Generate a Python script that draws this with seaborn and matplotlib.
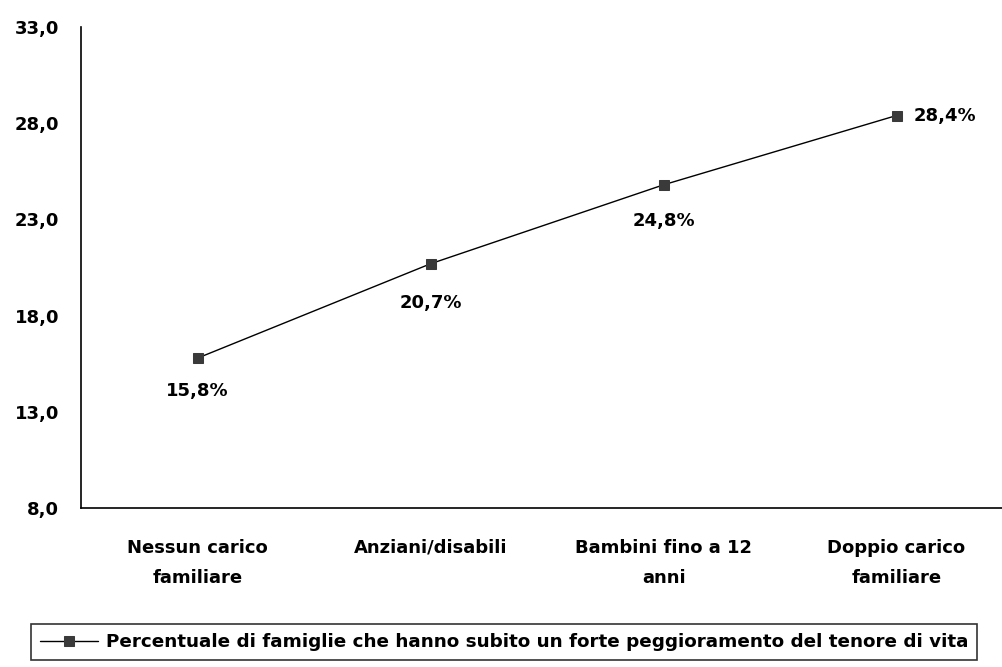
import matplotlib
matplotlib.use('Agg')
import matplotlib.pyplot as plt
import seaborn as sns
import pandas as pd

categories = ['Nessun carico\nfamiliare', 'Anziani/disabili', 'Bambini fino a 12\nanni', 'Doppio carico\nfamiliare']
values = [15.8, 20.7, 24.8, 28.4]
value_labels = ['15,8%', '20,7%', '24,8%', '28,4%']
yticks = [8.0, 13.0, 18.0, 23.0, 28.0, 33.0]
series_name = 'Percentuale di famiglie che hanno subito un forte peggioramento del tenore di vita'


def main():
    sns.set_style('white')
    plt.rcParams['font.family'] = ['DejaVu Sans']
    plt.rcParams['font.weight'] = 'bold'
    plt.rcParams['text.color'] = 'black'

    df = pd.DataFrame({'cat': range(len(categories)), 'val': values})

    fig = plt.figure(figsize=(10.02, 6.67), dpi=100)
    ax = fig.add_axes([0.081, 0.238, 0.93, 0.7216])

    sns.lineplot(data=df, x='cat', y='val', ax=ax, color='black', linewidth=1,
                 marker='s', markersize=7, markerfacecolor='#3a3a3a',
                 markeredgecolor='#3a3a3a', label=series_name, legend=False)

    # point labels, placed like the original
    offsets = [(0, -24, 'center'), (0, -28, 'center'), (0, -26, 'center'), (12, 0, 'left')]
    for i, (v, txt) in enumerate(zip(values, value_labels)):
        dx, dy, ha = offsets[i]
        ax.annotate(txt, (i, v), xytext=(dx, dy), textcoords='offset points',
                    ha=ha, va='center', fontsize=13, fontweight='bold', color='black')

    ax.set_xlim(-0.5, 3.5)
    ax.set_ylim(8, 33)
    ax.set_yticks(yticks)
    ax.set_yticklabels([f'{t:.1f}'.replace('.', ',') for t in yticks], fontsize=13, fontweight='bold')
    ax.set_xticks(range(len(categories)))
    ax.set_xticklabels(categories, fontsize=13, fontweight='bold', linespacing=1.9)
    ax.set_xlabel('')
    ax.set_ylabel('')

    for s in ['top', 'right']:
        ax.spines[s].set_visible(False)
    for s in ['left', 'bottom']:
        ax.spines[s].set_color('black')
        ax.spines[s].set_linewidth(1.2)
    ax.tick_params(axis='y', direction='out', length=6, width=1.2, colors='black', pad=10)
    ax.tick_params(axis='x', length=0, pad=22, colors='black')

    handles, labels = ax.get_legend_handles_labels()
    leg = fig.legend(handles, labels, loc='center', bbox_to_anchor=(0.503, 0.0375),
                     frameon=True, fancybox=False, edgecolor='black',
                     handlelength=3.2, handletextpad=0.4, borderpad=0.5,
                     prop={'weight': 'bold', 'size': 13.2})
    leg.get_frame().set_linewidth(1.2)
    for t in leg.get_texts():
        t.set_color('black')

    fig.savefig('out.png', dpi=100)


if __name__ == "__main__":
    main()
